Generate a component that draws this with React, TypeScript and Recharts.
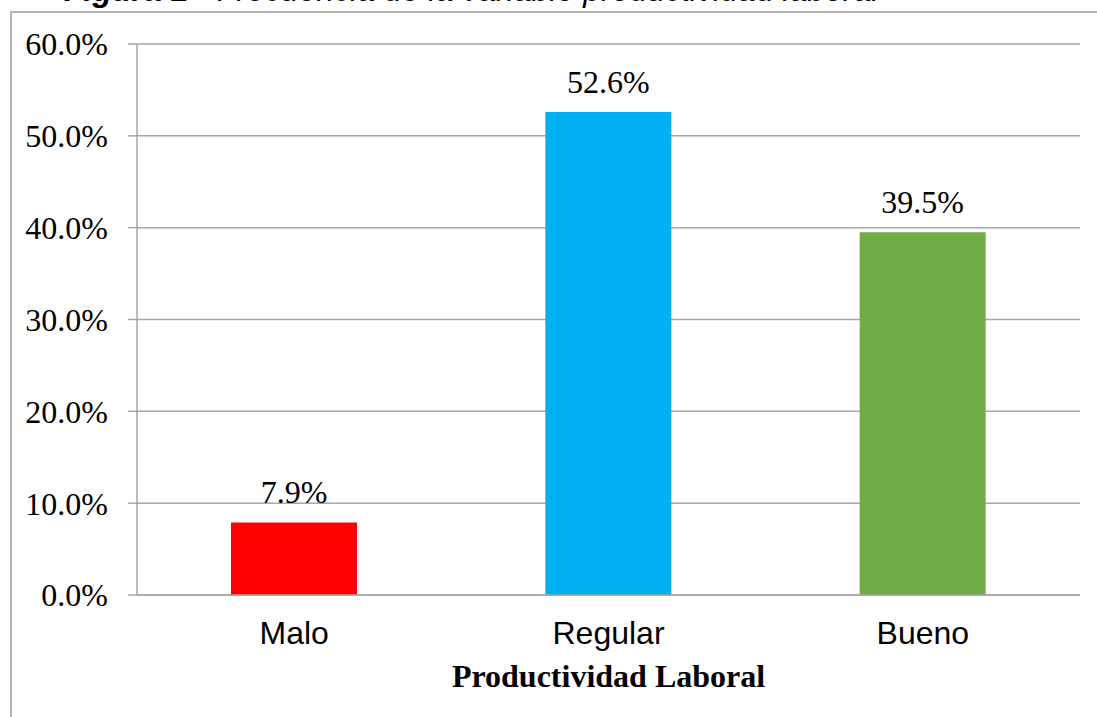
import React from "react";
import {
  BarChart,
  Bar,
  XAxis,
  YAxis,
  CartesianGrid,
  LabelList,
  Cell,
} from "recharts";

// data
const categories = ["Malo", "Regular", "Bueno"];
const values = [0.079, 0.526, 0.395];
const barColors = ["#FF0000", "#00B0F0", "#70AD47"];
const yTicks = [0, 0.1, 0.2, 0.3, 0.4, 0.5, 0.6];
const boundaryTicks = [0, 1, 2, 3];

const chartData = categories.map((name, i) => ({ name, value: values[i], pos: i + 0.5 }));

const GRID = "#a6a6a6";
const SERIF = "'Liberation Serif', 'Times New Roman', serif";
const SANS = "'Liberation Sans', Arial, sans-serif";
const pct = (v: number) => `${(v * 100).toFixed(1)}%`;

export default function App() {
  return (
    <div style={{ position: "absolute", left: 0, top: 0, width: 1097, height: 717, background: "#fff", overflow: "hidden" }}>
      <div
        style={{
          position: "absolute",
          left: 64,
          top: -28,
          fontFamily: SANS,
          fontSize: 32,
          fontStyle: "italic",
          whiteSpace: "nowrap",
          color: "#000",
        }}
      >
        <b>Figura 1</b> - Frecuencia de la variable productividad laboral
      </div>
      <div
        style={{
          position: "absolute",
          left: 10,
          top: 11,
          width: 1200,
          height: 800,
          border: "2px solid #b3b3b3",
          boxSizing: "border-box",
        }}
      />
      <div style={{ position: "absolute", left: 0, top: 0 }}>
        <BarChart
          width={1097}
          height={717}
          data={chartData}
          margin={{ top: 44, right: 17, left: 0, bottom: 0 }}
          barSize={126}
        >
          <CartesianGrid vertical={false} stroke={GRID} strokeWidth={1.5} />
          <XAxis
            xAxisId="cat"
            dataKey="name"
            height={122}
            axisLine={{ stroke: GRID, strokeWidth: 1.5 }}
            tickLine={false}
            tickMargin={20}
            tick={{ fill: "#000", fontSize: 32, fontFamily: SANS }}
            label={{
              value: "Productividad Laboral",
              position: "insideBottom",
              offset: 30,
              fill: "#000",
              fontSize: 32,
              fontWeight: "bold",
              fontFamily: SERIF,
            }}
          />
          <XAxis
            xAxisId="bnd"
            type="number"
            dataKey="pos"
            domain={[0, 3]}
            ticks={boundaryTicks}
            orientation="bottom"
            height={0}
            axisLine={false}
            tick={false}
            tickLine={{ stroke: GRID, strokeWidth: 1.5 }}
            tickSize={8}
          />
          <YAxis
            width={137}
            domain={[0, 0.6]}
            ticks={yTicks}
            tickFormatter={pct}
            axisLine={{ stroke: GRID, strokeWidth: 1.5 }}
            tickLine={{ stroke: GRID, strokeWidth: 1.5 }}
            tickSize={9}
            tickMargin={20}
            tick={{ fill: "#000", fontSize: 32, fontFamily: SERIF }}
          />
          <Bar xAxisId="cat" dataKey="value" isAnimationActive={false}>
            {chartData.map((d, i) => (
              <Cell key={d.name} fill={barColors[i]} />
            ))}
            <LabelList
              dataKey="value"
              position="top"
              offset={19}
              formatter={(v: any) => pct(Number(v))}
              fill="#000"
              fontSize={32}
              fontFamily={SERIF}
            />
          </Bar>
        </BarChart>
      </div>
    </div>
  );
}
